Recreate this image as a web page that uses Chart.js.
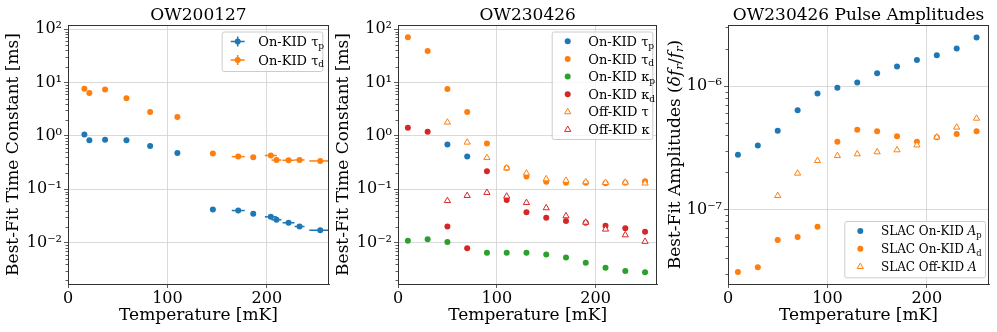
<!DOCTYPE html>
<html>
<head>
<meta charset="utf-8">
<script src="https://cdn.jsdelivr.net/npm/chart.js@4.4.1/dist/chart.umd.min.js"></script>
<style>
  body { margin: 0; background: #fff; width: 997px; height: 332px; position: relative; overflow: hidden; }
  canvas { position: absolute; top: 0; }
</style>
</head>
<body>
<canvas id="c1" width="332" height="332" style="left:0px"></canvas>
<canvas id="c2" width="332" height="332" style="left:330px"></canvas>
<canvas id="c3" width="337" height="332" style="left:660px"></canvas>
<script>
// ---- OW200127 (older run, with temperature error bars)
const tempOld    = [16.5, 21.5, 37.3, 58.8, 82.6, 110, 145.7, 171.2, 186.3, 204, 209.7, 221.8, 232.9, 253.7];
const tempOldErr = [0.5, 0.5, 0.5, 0.5, 0.5, 0.5, 2, 6.5, 2, 6, 5, 6, 5, 11];
const tauPOld    = [1.07, 0.83, 0.85, 0.83, 0.65, 0.48, 0.042, 0.040, 0.0347, 0.0305, 0.0268, 0.0236, 0.0201, 0.0171];
const tauDOld    = [7.7, 6.4, 7.4, 5.07, 2.8, 2.26, 0.47, 0.41, 0.40, 0.43, 0.353, 0.35, 0.355, 0.34];

// ---- OW230426 time constants
const tempNew   = [10, 30, 50, 70, 90, 110, 130, 150, 170, 190, 210, 230, 250];
const tauPNew   = [null, null, 0.69, 0.41, null, null, null, null, null, null, null, null, null];
const tauDNew   = [71, 39, 7.6, 2.8, 0.72, 0.25, 0.173, 0.139, 0.133, 0.133, 0.13, 0.132, 0.142];
const kappaPNew = [0.0109, 0.01155, 0.0103, null, 0.0065, 0.0065, 0.0065, 0.0060, 0.0053, 0.0042, 0.0034, 0.00294, 0.0028];
const kappaDNew = [1.43, 1.2, 0.020, 0.0079, 0.218, 0.063, 0.037, 0.0294, 0.0255, 0.0237, 0.0208, 0.0186, 0.0161];
const tauOff    = [null, null, 1.8, 0.76, 0.39, 0.25, 0.2, 0.156, 0.146, 0.137, 0.133, 0.135, 0.13];
const kappaOff  = [null, null, 0.061, 0.076, 0.0866, 0.074, 0.056, 0.0447, 0.0316, 0.024, 0.0178, 0.0139, 0.0105];

// ---- OW230426 pulse amplitudes
const ampP   = [2.77e-7, 3.3e-7, 4.35e-7, 6.36e-7, 8.72e-7, 9.7e-7, 1.07e-6, 1.27e-6, 1.44e-6, 1.63e-6, 1.78e-6, 2.02e-6, 2.48e-6];
const ampD   = [3.1e-8, 3.39e-8, 5.64e-8, 5.96e-8, 7.23e-8, 3.53e-7, 4.42e-7, 4.31e-7, 3.91e-7, 3.53e-7, 3.84e-7, 4.08e-7, 4.3e-7];
const ampOff = [null, null, 1.29e-7, 1.96e-7, 2.48e-7, 2.72e-7, 2.81e-7, 2.92e-7, 3.03e-7, 3.32e-7, 3.85e-7, 4.63e-7, 5.47e-7];

const BLUE = '#1f77b4', ORANGE = '#ff7f0e', GREEN = '#2ca02c', RED = '#d62728';
const SERIF = "'DejaVu Serif', serif";

Chart.defaults.font.family = SERIF;
Chart.defaults.color = '#000';

function pts(xs, ys) {
  let out = [];
  for (let i = 0; i < xs.length; i++) {
    if (ys[i] !== null) out.push({x: xs[i], y: ys[i]});
  }
  return out;
}

function sup(n) {
  const map = {'-': '\u207B', '0': '\u2070', '1': '\u00B9', '2': '\u00B2', '3': '\u00B3',
    '4': '\u2074', '5': '\u2075', '6': '\u2076', '7': '\u2077', '8': '\u2078', '9': '\u2079'};
  return String(n).split('').map(c => map[c]).join('');
}

function dots(color) {
  return {pointStyle: 'circle', pointRadius: 3, pointBackgroundColor: color, pointBorderWidth: 0, pointHoverRadius: 3};
}
function tris(color) {
  return {pointStyle: 'triangle', pointRadius: 3.6, pointBackgroundColor: '#fff', pointBorderColor: color, pointBorderWidth: 1, pointHoverRadius: 3.6};
}

// rich text with subscripts / italics, drawn on the canvas
function segFont(s, fs) {
  return (s.it ? 'italic ' : '') + (s.sub ? fs * 0.7 : fs) + 'px ' + SERIF;
}
function richWidth(ctx, segs, fs) {
  let w = 0;
  for (let s of segs) { ctx.font = segFont(s, fs); w += ctx.measureText(s.t).width; }
  return w;
}
function drawRich(ctx, segs, x, y, fs) {
  ctx.textBaseline = 'alphabetic';
  ctx.textAlign = 'left';
  for (let s of segs) {
    ctx.font = segFont(s, fs);
    ctx.fillText(s.t, x, s.sub ? y + fs * 0.22 : y);
    x += ctx.measureText(s.t).width;
  }
}

function drawMarker(ctx, kind, color, x, y) {
  ctx.save();
  if (kind === 'err') {
    ctx.strokeStyle = color; ctx.lineWidth = 1.5;
    ctx.beginPath();
    ctx.moveTo(x - 7, y); ctx.lineTo(x + 7, y);
    ctx.moveTo(x, y - 5); ctx.lineTo(x, y + 5);
    ctx.stroke();
  }
  if (kind === 'err' || kind === 'dot') {
    ctx.fillStyle = color;
    ctx.beginPath(); ctx.arc(x, y, 3, 0, Math.PI * 2); ctx.fill();
  }
  if (kind === 'tri') {
    let r = 3.6;
    ctx.fillStyle = '#fff'; ctx.strokeStyle = color; ctx.lineWidth = 1;
    ctx.beginPath();
    ctx.moveTo(x, y - r);
    ctx.lineTo(x + r * 0.866, y + r * 0.5);
    ctx.lineTo(x - r * 0.866, y + r * 0.5);
    ctx.closePath(); ctx.fill(); ctx.stroke();
  }
  ctx.restore();
}

const mplPlugin = {
  id: 'mpl',
  beforeDatasetsDraw(chart) {
    // horizontal temperature error bars
    const ctx = chart.ctx, a = chart.chartArea;
    const xs = chart.scales.x, ys = chart.scales.y;
    ctx.save();
    ctx.beginPath(); ctx.rect(a.left, a.top, a.right - a.left, a.bottom - a.top); ctx.clip();
    chart.data.datasets.forEach(ds => {
      if (!ds.xerr) return;
      ctx.strokeStyle = ds.pointBackgroundColor;
      ctx.lineWidth = 1.5;
      ds.data.forEach((p, i) => {
        let py = ys.getPixelForValue(p.y);
        ctx.beginPath();
        ctx.moveTo(xs.getPixelForValue(p.x - ds.xerr[i]), py);
        ctx.lineTo(xs.getPixelForValue(p.x + ds.xerr[i]), py);
        ctx.stroke();
      });
    });
    ctx.restore();
  },
  afterDraw(chart, args, opts) {
    const ctx = chart.ctx, a = chart.chartArea, ys = chart.scales.y;
    ctx.save();
    // minor log ticks on the left spine
    ctx.strokeStyle = '#333'; ctx.lineWidth = 0.8;
    let lo = Math.floor(Math.log10(ys.min)), hi = Math.ceil(Math.log10(ys.max));
    for (let d = lo; d <= hi; d++) {
      for (let m = 2; m <= 9; m++) {
        let v = m * Math.pow(10, d);
        if (v < ys.min || v > ys.max) continue;
        let py = Math.round(ys.getPixelForValue(v)) + 0.5;
        ctx.beginPath(); ctx.moveTo(a.left - 2.5, py); ctx.lineTo(a.left, py); ctx.stroke();
      }
    }
    // frame
    ctx.strokeStyle = '#333'; ctx.lineWidth = 1;
    ctx.strokeRect(Math.round(a.left) + 0.5, Math.round(a.top) + 0.5, Math.round(a.right - a.left) - 1, Math.round(a.bottom - a.top));
    // title
    ctx.fillStyle = '#000';
    ctx.font = '17px ' + SERIF;
    ctx.textAlign = 'center'; ctx.textBaseline = 'alphabetic';
    ctx.fillText(opts.title, (a.left + a.right) / 2, 20);
    // rotated rich y label
    if (opts.ylabel) {
      ctx.save();
      ctx.translate(opts.ylabelX, (a.top + a.bottom) / 2);
      ctx.rotate(-Math.PI / 2);
      let w = richWidth(ctx, opts.ylabel, 17);
      ctx.fillStyle = '#000';
      drawRich(ctx, opts.ylabel, -w / 2, 6, 17);
      ctx.restore();
    }
    // legend
    const L = opts.legend;
    ctx.fillStyle = 'rgba(255,255,255,0.8)';
    ctx.strokeStyle = '#cccccc'; ctx.lineWidth = 1;
    ctx.beginPath();
    ctx.roundRect(L.x0 + 0.5, L.y0 + 0.5, L.x1 - L.x0, L.y1 - L.y0, 2);
    ctx.fill(); ctx.stroke();
    L.items.forEach((it, i) => {
      let cy = L.rowY + i * L.rowStep;
      drawMarker(ctx, it.marker, it.color, L.markerX, cy);
      ctx.fillStyle = '#000';
      drawRich(ctx, it.segs, L.textX, cy + L.fs * 0.35, L.fs);
    });
    ctx.restore();
  }
};

function xAxis() {
  return {
    type: 'linear', min: 0, max: 262.5,
    afterBuildTicks: ax => { ax.ticks = [0, 100, 200].map(v => ({value: v})); },
    afterFit: ax => { ax.height = 48; },
    ticks: {font: {size: 16}, color: '#000', padding: 1, maxRotation: 0},
    grid: {color: '#d0d0d0', lineWidth: 0.8, tickColor: '#333', tickLength: 4},
    border: {color: '#333', width: 1},
    title: {display: true, text: 'Temperature [mK]', font: {size: 17}, color: '#000', padding: {top: 0, bottom: 6}}
  };
}

function yAxis(min, max, label) {
  return {
    type: 'logarithmic', min: min, max: max,
    afterBuildTicks: ax => {
      let t = [];
      for (let d = Math.ceil(Math.log10(min)); d <= Math.floor(Math.log10(max)); d++) t.push({value: Math.pow(10, d), major: true});
      ax.ticks = t;
    },
    afterFit: ax => { ax.width = 68; },
    ticks: {font: {size: 16}, color: '#000', padding: 2, autoSkip: false,
      callback: v => '10' + sup(Math.round(Math.log10(v)))},
    grid: {color: '#d0d0d0', lineWidth: 0.8, tickColor: '#333', tickLength: 4},
    border: {color: '#333', width: 1},
    title: label ? {display: true, text: label, font: {size: 17}, color: '#000', padding: {top: 3, bottom: 0}} : {display: false}
  };
}

function makeChart(id, datasets, yMin, yMax, yLabel, padRight, mpl) {
  // later datasets are drawn on top, as in matplotlib
  datasets.forEach((d, i) => { d.order = datasets.length - i; });
  return new Chart(document.getElementById(id), {
    type: 'scatter',
    data: {datasets: datasets},
    options: {
      responsive: false, animation: false, devicePixelRatio: 1,
      layout: {padding: {top: 25, right: padRight, left: 0, bottom: 0}},
      scales: {x: xAxis(), y: yAxis(yMin, yMax, yLabel)},
      plugins: {legend: {display: false}, tooltip: {enabled: false}, title: {display: false}, mpl: mpl}
    },
    plugins: [mplPlugin]
  });
}

// panel 1
makeChart('c1', [
  Object.assign({label: 'On-KID tau_p', data: pts(tempOld, tauPOld), xerr: tempOldErr}, dots(BLUE)),
  Object.assign({label: 'On-KID tau_d', data: pts(tempOld, tauDOld), xerr: tempOldErr}, dots(ORANGE))
], 1.68e-3, 120, 'Best-Fit Time Constant [ms]', 3, {
  title: 'OW200127',
  legend: {x0: 221.7, y0: 31.5, x1: 322.3, y1: 71, markerX: 237.7, textX: 258.3, rowY: 41.5, rowStep: 18.5, fs: 13,
    items: [
      {marker: 'err', color: BLUE, segs: [{t: 'On-KID \u03C4'}, {t: 'p', sub: 1}]},
      {marker: 'err', color: ORANGE, segs: [{t: 'On-KID \u03C4'}, {t: 'd', sub: 1}]}
    ]}
});

// panel 2
makeChart('c2', [
  Object.assign({label: 'On-KID tau_p', data: pts(tempNew, tauPNew)}, dots(BLUE)),
  Object.assign({label: 'On-KID tau_d', data: pts(tempNew, tauDNew)}, dots(ORANGE)),
  Object.assign({label: 'On-KID kappa_p', data: pts(tempNew, kappaPNew)}, dots(GREEN)),
  Object.assign({label: 'On-KID kappa_d', data: pts(tempNew, kappaDNew)}, dots(RED)),
  Object.assign({label: 'Off-KID tau', data: pts(tempNew, tauOff)}, tris(ORANGE)),
  Object.assign({label: 'Off-KID kappa', data: pts(tempNew, kappaOff)}, tris(RED))
], 1.68e-3, 120, 'Best-Fit Time Constant [ms]', 3, {
  title: 'OW230426',
  legend: {x0: 221.7, y0: 31.5, x1: 322.3, y1: 139, markerX: 237.7, textX: 258.3, rowY: 41.3, rowStep: 17.66, fs: 13,
    items: [
      {marker: 'dot', color: BLUE, segs: [{t: 'On-KID \u03C4'}, {t: 'p', sub: 1}]},
      {marker: 'dot', color: ORANGE, segs: [{t: 'On-KID \u03C4'}, {t: 'd', sub: 1}]},
      {marker: 'dot', color: GREEN, segs: [{t: 'On-KID \u03BA'}, {t: 'p', sub: 1}]},
      {marker: 'dot', color: RED, segs: [{t: 'On-KID \u03BA'}, {t: 'd', sub: 1}]},
      {marker: 'tri', color: ORANGE, segs: [{t: 'Off-KID \u03C4'}]},
      {marker: 'tri', color: RED, segs: [{t: 'Off-KID \u03BA'}]}
    ]}
});

// panel 3
makeChart('c3', [
  Object.assign({label: 'SLAC On-KID A_p', data: pts(tempNew, ampP)}, dots(BLUE)),
  Object.assign({label: 'SLAC On-KID A_d', data: pts(tempNew, ampD)}, dots(ORANGE)),
  Object.assign({label: 'SLAC Off-KID A', data: pts(tempNew, ampOff)}, tris(ORANGE))
], 2.48e-8, 3.13e-6, null, 8, {
  title: 'OW230426 Pulse Amplitudes',
  ylabelX: 13.5,
  ylabel: [{t: 'Best-Fit Amplitudes ('}, {t: '\u03B4f', it: 1}, {t: 'r', it: 1, sub: 1}, {t: '/'}, {t: 'f', it: 1}, {t: 'r', it: 1, sub: 1}, {t: ')'}],
  legend: {x0: 184.3, y0: 221, x1: 325, y1: 277.3, markerX: 200.3, textX: 221, rowY: 231, rowStep: 17.85, fs: 12,
    items: [
      {marker: 'dot', color: BLUE, segs: [{t: 'SLAC On-KID '}, {t: 'A', it: 1}, {t: 'p', sub: 1}]},
      {marker: 'dot', color: ORANGE, segs: [{t: 'SLAC On-KID '}, {t: 'A', it: 1}, {t: 'd', sub: 1}]},
      {marker: 'tri', color: ORANGE, segs: [{t: 'SLAC Off-KID '}, {t: 'A', it: 1}]}
    ]}
});
</script>
</body>
</html>
